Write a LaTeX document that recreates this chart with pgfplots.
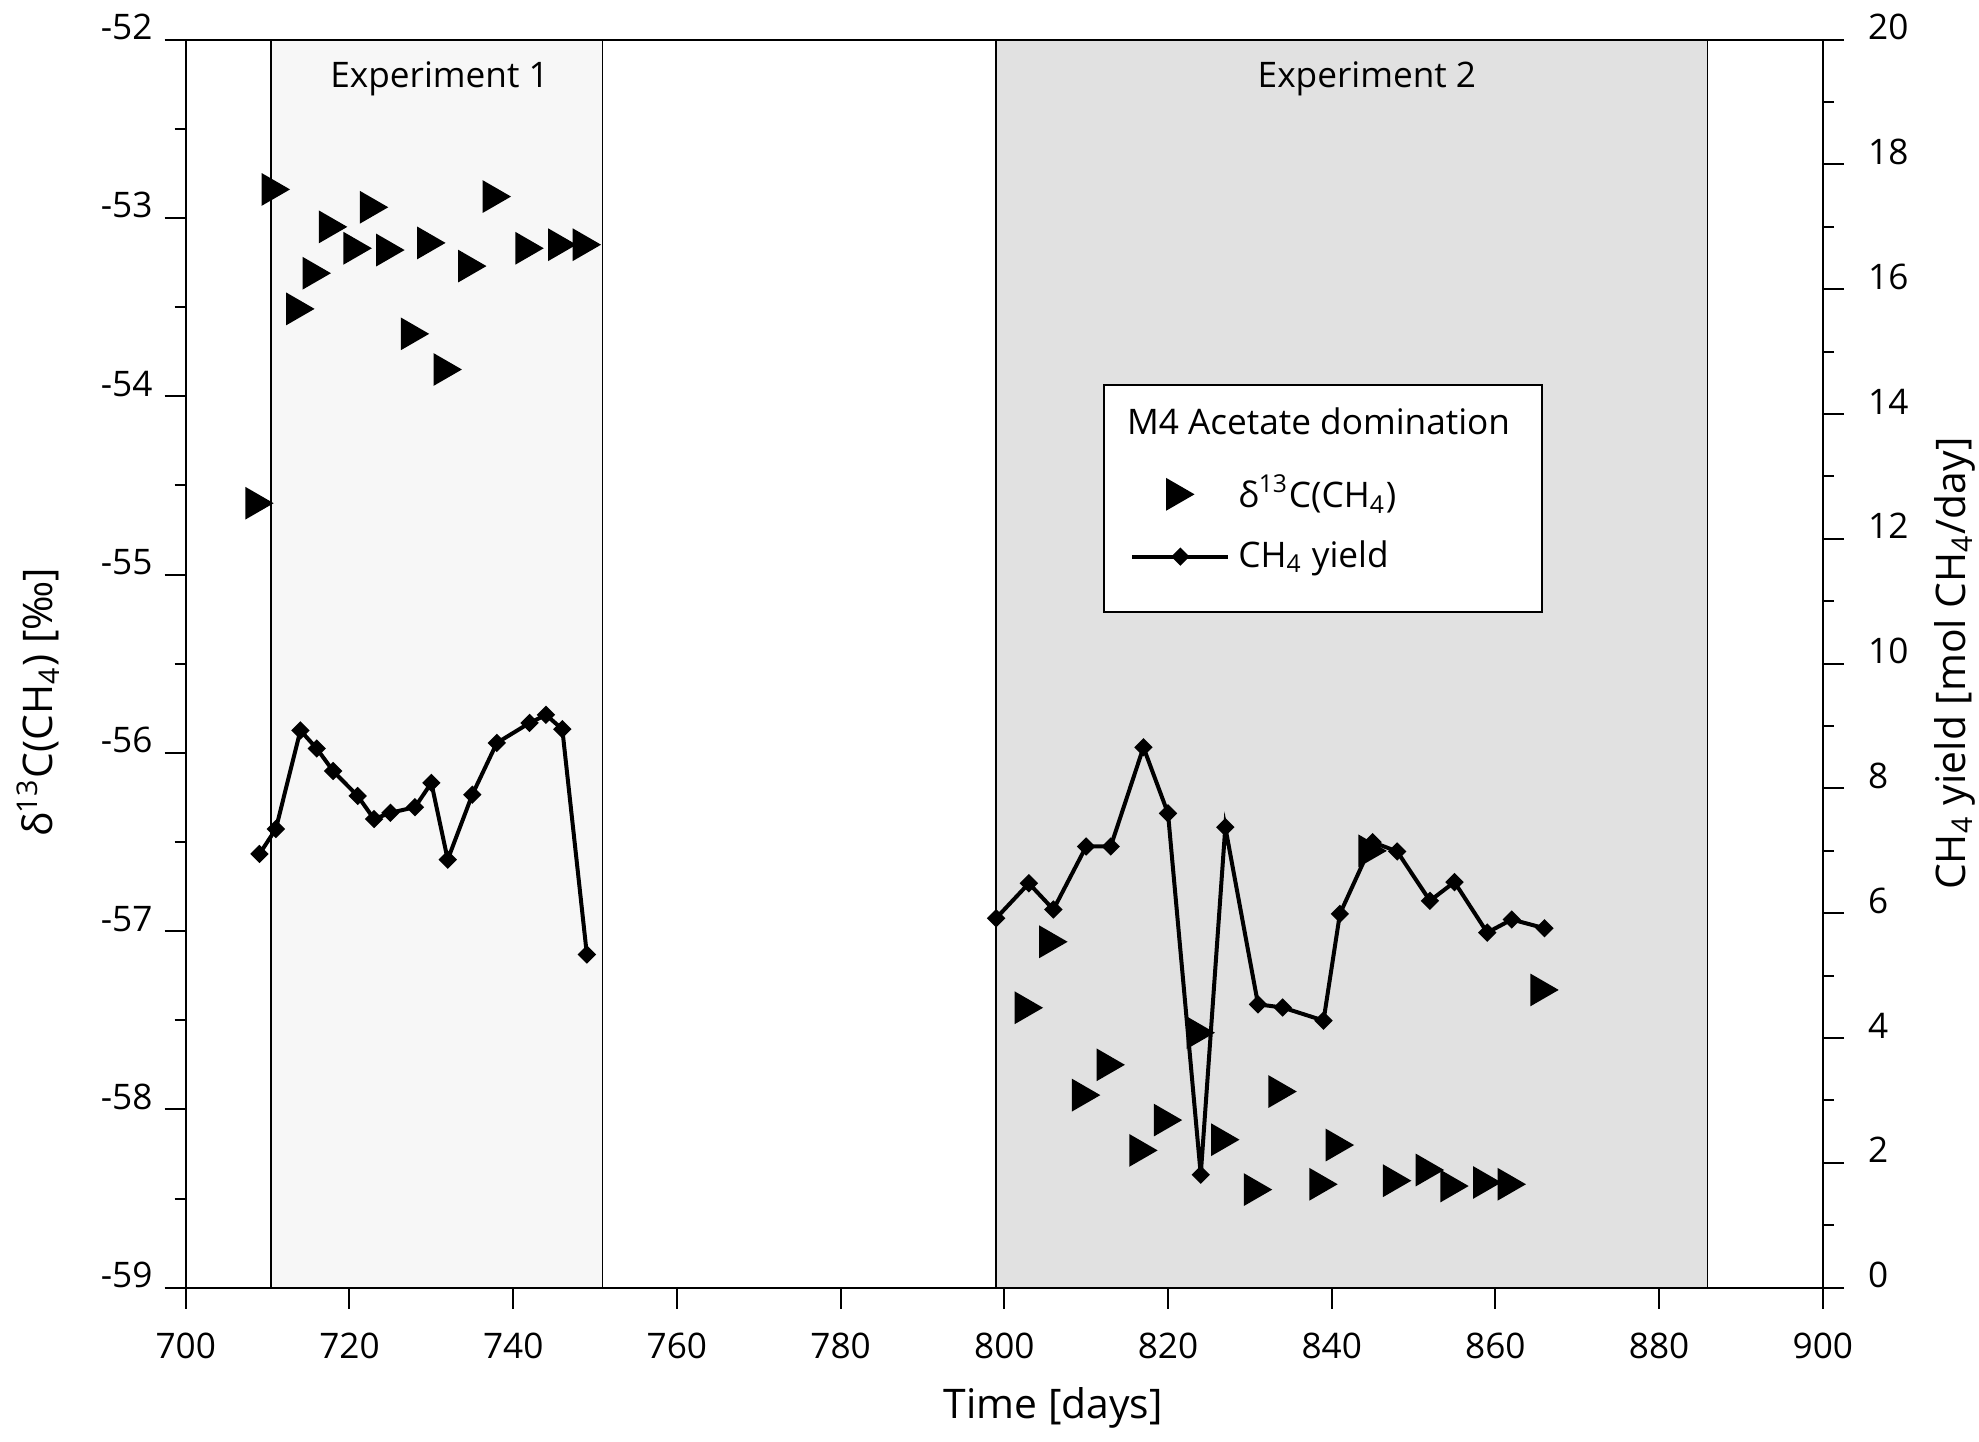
\documentclass[border=0pt]{standalone}
\usepackage{fontspec}
\setmainfont{Open Sans}
\usepackage{pgfplots}
\pgfplotsset{compat=1.18}
\definecolor{exone}{HTML}{F7F7F7}
\definecolor{extwo}{HTML}{E1E1E1}
\pgfdeclareplotmark{rtri}{%
  \pgfpathmoveto{\pgfqpoint{3.55pt}{0pt}}%
  \pgfpathlineto{\pgfqpoint{-3.55pt}{4.1pt}}%
  \pgfpathlineto{\pgfqpoint{-3.55pt}{-4.1pt}}%
  \pgfpathclose\pgfusepathqfill}
\pgfdeclareplotmark{dia}{%
  \pgfpathmoveto{\pgfqpoint{2.3pt}{0pt}}%
  \pgfpathlineto{\pgfqpoint{0pt}{2.3pt}}%
  \pgfpathlineto{\pgfqpoint{-2.3pt}{0pt}}%
  \pgfpathlineto{\pgfqpoint{0pt}{-2.3pt}}%
  \pgfpathclose\pgfusepathqfill}
\pgfplotstableread{
x y
709 -54.60
711 -52.84
714 -53.51
716 -53.31
718 -53.05
721 -53.17
723 -52.94
725 -53.18
728 -53.65
730 -53.14
732 -53.85
735 -53.27
738 -52.88
742 -53.17
746 -53.15
749 -53.15
803 -57.43
806 -57.06
810 -57.92
813 -57.75
817 -58.23
820 -58.06
824 -57.57
827 -58.17
831 -58.45
834 -57.90
839 -58.42
841 -58.20
845 -56.55
848 -58.40
852 -58.34
855 -58.43
859 -58.41
862 -58.42
866 -57.33
}\deltatab
\pgfplotstableread{
x y
709 6.95
711 7.35
714 8.93
716 8.64
718 8.28
721 7.88
723 7.51
725 7.61
728 7.70
730 8.09
732 6.86
735 7.90
738 8.73
742 9.05
744 9.18
746 8.95
749 5.34
}\yieldone
\pgfplotstableread{
x y
799 5.92
803 6.48
806 6.06
810 7.07
813 7.07
817 8.66
820 7.60
824 1.81
827 7.38
831 4.54
834 4.49
839 4.28
841 5.99
845 7.14
848 6.99
852 6.20
855 6.50
859 5.69
862 5.90
866 5.76
}\yieldtwo
\begin{document}
\begin{tikzpicture}
\useasboundingbox (-46.45pt,-38.58pt) rectangle (448.3pt,321.92pt);
\pgfplotsset{
  common/.style={
    at={(0,0)}, anchor=south west,
    scale only axis, width=409.25pt, height=312pt,
    xmin=700, xmax=900,
    tick align=outside,
    major tick length=5.3pt, minor tick length=2.8pt,
    axis line style={-, line width=0.5pt},
    every tick/.style={black, line width=0.5pt},
    tick label style={font=\fontsize{8.8}{10}\selectfont},
    label style={font=\fontsize{10.2}{12}\selectfont},
    /pgf/number format/assume math mode=true,
  }
}
\begin{axis}[common,
  ymin=-59, ymax=-52,
  xtick={700,720,...,900}, ytick={-59,-58,...,-52},
  minor y tick num=1,
  xtick pos=left, ytick pos=left,
  axis on top,
  xticklabel style={yshift=-2.4pt},
  yticklabel style={anchor=base east, xshift=0.5pt},
  xlabel={Time [days]},
  xlabel style={at={(axis description cs:0.53,-0.0962)}, anchor=center},
  ylabel={δ\textsuperscript{13}C(CH\textsubscript{4}) [‰]},
  ylabel style={at={(axis description cs:-0.0902,0.469)}, anchor=center},
]
\fill[exone] (axis cs:710.4,-59) rectangle (axis cs:750.9,-52);
\draw[line width=0.4pt] (axis cs:710.4,-59) rectangle (axis cs:750.9,-52);
\fill[extwo] (axis cs:799.0,-59) rectangle (axis cs:885.9,-52);
\draw[line width=0.4pt] (axis cs:799.0,-59) rectangle (axis cs:885.9,-52);
\node[anchor=base, font=\fontsize{8.8}{10}\selectfont] at (axis cs:731.0,-52.27) {Experiment 1};
\node[anchor=base, font=\fontsize{8.8}{10}\selectfont] at (axis cs:844.3,-52.27) {Experiment 2};
\addplot[black, only marks, mark=rtri] table[x=x,y=y] {\deltatab};
\end{axis}
\begin{axis}[common,
  ymin=0, ymax=20,
  axis x line=none, axis y line*=right,
  ytick={0,2,...,20}, minor y tick num=1,
  yticklabel style={anchor=base west, xshift=2.5pt},
  ylabel={CH\textsubscript{4} yield [mol CH\textsubscript{4}/day]},
  ylabel style={at={(axis description cs:1.0806,0.5)}, anchor=center},
  legend cell align=left,
  legend style={at={(axis description cs:0.5765,0.612)}, anchor=west,
    draw=none, fill=none, inner sep=0pt, row sep=2.6pt,
    font=\fontsize{8.8}{10}\selectfont},
  legend image code/.code={\draw[mark repeat=2,mark phase=2,#1] plot coordinates {(0pt,0pt) (12pt,0pt) (24pt,0pt)};},
]
\draw[fill=white, line width=0.5pt] (axis cs:812.17,10.83) rectangle (axis cs:865.75,14.47);
\node[anchor=base west, inner sep=0pt, font=\fontsize{8.8}{10}\selectfont] at (axis cs:814.9,13.68) {M4 Acetate domination};
\addlegendimage{black, only marks, mark=rtri}
\addlegendentry{δ\textsuperscript{13}C(CH\textsubscript{4})}
\addplot[black, line width=1pt, mark=dia] table[x=x,y=y] {\yieldone};
\addlegendentry{CH\textsubscript{4} yield}
\addplot[black, line width=1pt, mark=dia, forget plot] table[x=x,y=y] {\yieldtwo};
\end{axis}
\end{tikzpicture}
\end{document}
